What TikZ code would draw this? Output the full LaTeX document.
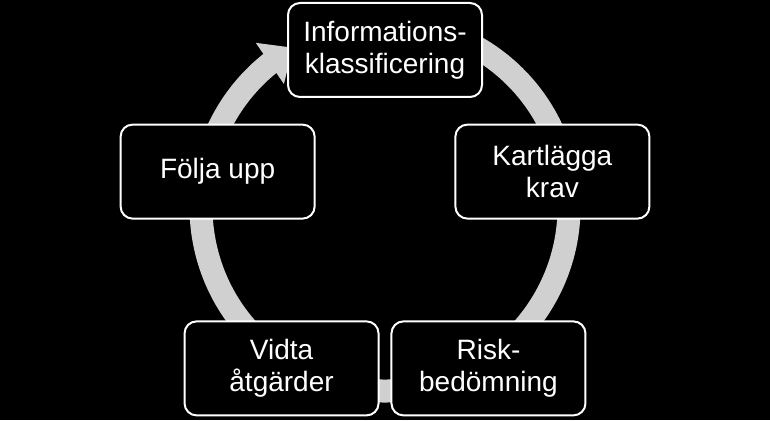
\documentclass[tikz,border=0pt]{standalone}
\usepackage{fontspec}
\setmainfont{Liberation Sans}
\usetikzlibrary{arrows.meta,bending}

\definecolor{ringgray}{RGB}{208,208,208}

\tikzset{
    stagebox/.style={draw=white, line width=2pt, fill=black, text=white,
        rounded corners=12pt, minimum width=194pt, minimum height=94pt,
        inner sep=0pt, align=center, font=\fontsize{28}{32}\selectfont},
    cyclering/.style={draw=ringgray, line width=23pt,
        -{Triangle[length=28pt, width=48pt, flex]}}
}

\begin{document}
\begin{tikzpicture}[x=1pt, y=1pt]
        \useasboundingbox[fill=black] (0,0) rectangle (770,420);
        \def\r{176}

        % ring with its one arrowhead
        \draw[cyclering] (385,213) ++(100:184) arc[start angle=100, end angle=-240, radius=184];

        \begin{scope}[shift={(385,194)}]
            \foreach \ang/\name/\txt in {90/info/{Informations-\\klassificering},
                                         18/krav/{Kartlägga\\krav},
                                         -54/risk/{Risk-\\bedömning},
                                         -126/vidta/{Vidta\\åtgärder},
                                         162/folja/{Följa upp}}{
                \node[stagebox] (\name) at (\ang:\r) {\txt};
            }
        \end{scope}

    \end{tikzpicture}
\end{document}
